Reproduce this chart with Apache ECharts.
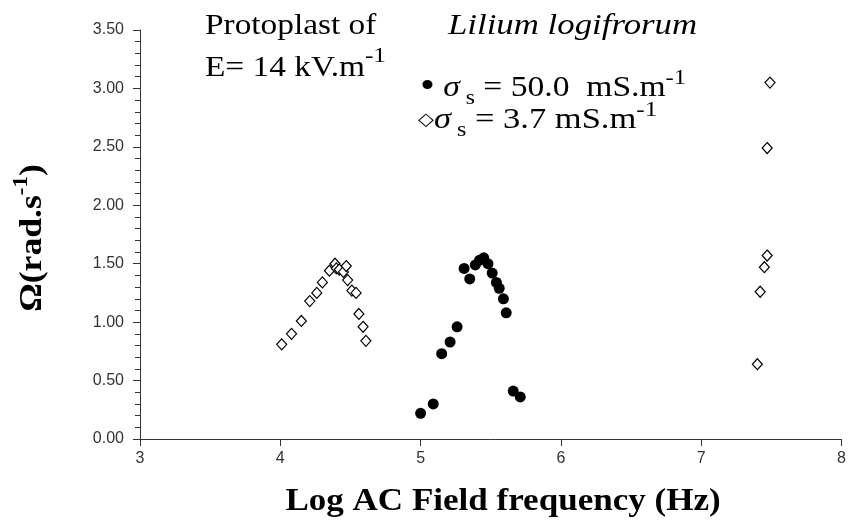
<!DOCTYPE html>
<html><head><meta charset="utf-8">
<script src="https://cdn.jsdelivr.net/npm/echarts@6/dist/echarts.min.js"></script>
<style>html,body{margin:0;padding:0;background:#fff}#c{width:849px;height:520px}</style>
</head><body><div id="c"></div>
<script>
// Series sigma_s = 50.0 mS/m (filled circles)
const highX = [5.00, 5.09, 5.15, 5.21, 5.26, 5.31, 5.35, 5.39, 5.42, 5.45, 5.48, 5.51, 5.54, 5.56, 5.59, 5.61, 5.66, 5.71];
const highY = [0.22, 0.30, 0.73, 0.83, 0.96, 1.46, 1.37, 1.49, 1.53, 1.55, 1.50, 1.42, 1.34, 1.29, 1.20, 1.08, 0.41, 0.36];
// Series sigma_s = 3.7 mS/m (open diamonds)
const lowX = [4.01, 4.08, 4.15, 4.21, 4.26, 4.30, 4.35, 4.39, 4.40, 4.42, 4.45, 4.47, 4.48, 4.51, 4.54, 4.56, 4.59, 4.61, 7.40, 7.42, 7.45, 7.47, 7.47, 7.49];
const lowY = [0.81, 0.90, 1.01, 1.18, 1.25, 1.34, 1.44, 1.50, 1.46, 1.45, 1.43, 1.48, 1.36, 1.27, 1.25, 1.07, 0.96, 0.84, 0.64, 1.26, 1.47, 1.57, 2.49, 3.05];
const xMin = 3, xMax = 8, xStep = 1;
const yMin = 0, yMax = 3.5, yStep = 0.5;

const chart = echarts.init(document.getElementById('c'), null, {renderer: 'canvas'});
const serif = '"Liberation Serif","Times New Roman",serif';
const sans = '"Liberation Sans",Arial,sans-serif';
const axisCol = '#333';
const sx = 1.12;

function txt(x, y, text, opt, scale) {
  return {
    type: 'text', x: x, y: y, scaleX: scale || sx,
    style: Object.assign({text: text, font: '29px ' + serif, fill: '#000', textVerticalAlign: 'middle', textAlign: 'left'}, opt || {})
  };
}
function legendRich(marker) {
  return {
    d: marker,
    g: {font: 'italic 30px ' + serif, fill: '#000', verticalAlign: 'middle', lineHeight: 38},
    sub: {font: '21px ' + serif, fill: '#000', verticalAlign: 'bottom', lineHeight: 28},
    b: {font: '30px ' + serif, fill: '#000', verticalAlign: 'middle', lineHeight: 38},
    s: {font: '22px ' + serif, fill: '#000', verticalAlign: 'top', lineHeight: 42}
  };
}

chart.setOption({
  animation: false,
  backgroundColor: '#fff',
  grid: {left: 140, right: 6, top: 30, bottom: 81, containLabel: false},
  xAxis: {
    type: 'value', min: xMin, max: xMax, interval: xStep,
    axisLine: {show: true, lineStyle: {color: axisCol, width: 1}},
    axisTick: {show: true, length: 7, lineStyle: {color: axisCol}},
    axisLabel: {color: '#333', fontSize: 16, fontFamily: sans, margin: 12},
    splitLine: {show: false}
  },
  yAxis: {
    type: 'value', min: yMin, max: yMax, interval: yStep,
    axisLine: {show: true, lineStyle: {color: axisCol, width: 1}},
    axisTick: {show: true, length: 7, lineStyle: {color: axisCol}},
    minorTick: {show: true, splitNumber: 5, length: 5, lineStyle: {color: axisCol}},
    axisLabel: {color: '#333', fontSize: 16, fontFamily: sans, margin: 16, formatter: v => v.toFixed(2)},
    splitLine: {show: false}, minorSplitLine: {show: false}
  },
  series: [
    {
      name: 'σs = 3.7 mS.m-1', type: 'scatter', symbol: 'diamond', symbolSize: [10, 11],
      itemStyle: {color: '#fff', borderColor: '#000', borderWidth: 1.2, opacity: 1},
      data: lowX.map((x, i) => [x, lowY[i]]), z: 2
    },
    {
      name: 'σs = 50.0 mS.m-1', type: 'scatter', symbol: 'circle', symbolSize: 11,
      itemStyle: {color: '#000', opacity: 1},
      data: highX.map((x, i) => [x, highY[i]]), z: 3
    }
  ],
  graphic: [
    // axis titles
    {type: 'text', x: 503, y: 502, scaleX: 1.13,
     style: {text: 'Log AC Field frequency (Hz)', font: 'bold 31px ' + serif, fill: '#000', textAlign: 'center', textVerticalAlign: 'middle'}},
    {type: 'text', x: 30, y: 238, rotation: Math.PI / 2, scaleX: 1.15,
     style: {text: '{b|Ω(rad.s}{s|-1}{b|)}', textAlign: 'center', textVerticalAlign: 'middle',
       rich: {b: {font: 'bold 31px ' + serif, fill: '#000', verticalAlign: 'bottom', lineHeight: 36},
              s: {font: 'bold 20px ' + serif, fill: '#000', verticalAlign: 'top', lineHeight: 36}}}},
    // annotations
    txt(205, 26, 'Protoplast of', {font: '29px ' + serif}, 1.15),
    {type: 'text', x: 205, y: 64, scaleX: 1.15,
     style: {text: '{b|E= 14 kV.m}{s|-1}', textAlign: 'left', textVerticalAlign: 'middle',
       rich: {b: {font: '29px ' + serif, fill: '#000', verticalAlign: 'bottom', lineHeight: 38},
              s: {font: '22px ' + serif, fill: '#000', verticalAlign: 'top', lineHeight: 38}}}},
    txt(448, 26, 'Lilium logifrorum', {font: 'italic 30px ' + serif}, 1.16),
    {type: 'text', x: 420, y: 88, scaleX: 1.12,
     style: {text: '{d|•}{b| }{g|σ}{sub| s}{b| = 50.0  mS.m}{s|-1}', textAlign: 'left', textVerticalAlign: 'middle',
       rich: legendRich({font: '38px ' + serif, fill: '#000', verticalAlign: 'middle', lineHeight: 38})}},
    {type: 'text', x: 418, y: 120, scaleX: 1.15,
     style: {text: '{d|◇}{g|σ}{sub| s}{b| = 3.7 mS.m}{s|-1}', textAlign: 'left', textVerticalAlign: 'middle',
       rich: legendRich({font: '18px "DejaVu Sans"', fill: '#000', verticalAlign: 'middle', lineHeight: 38})}}
  ]
});
</script>
</body></html>
